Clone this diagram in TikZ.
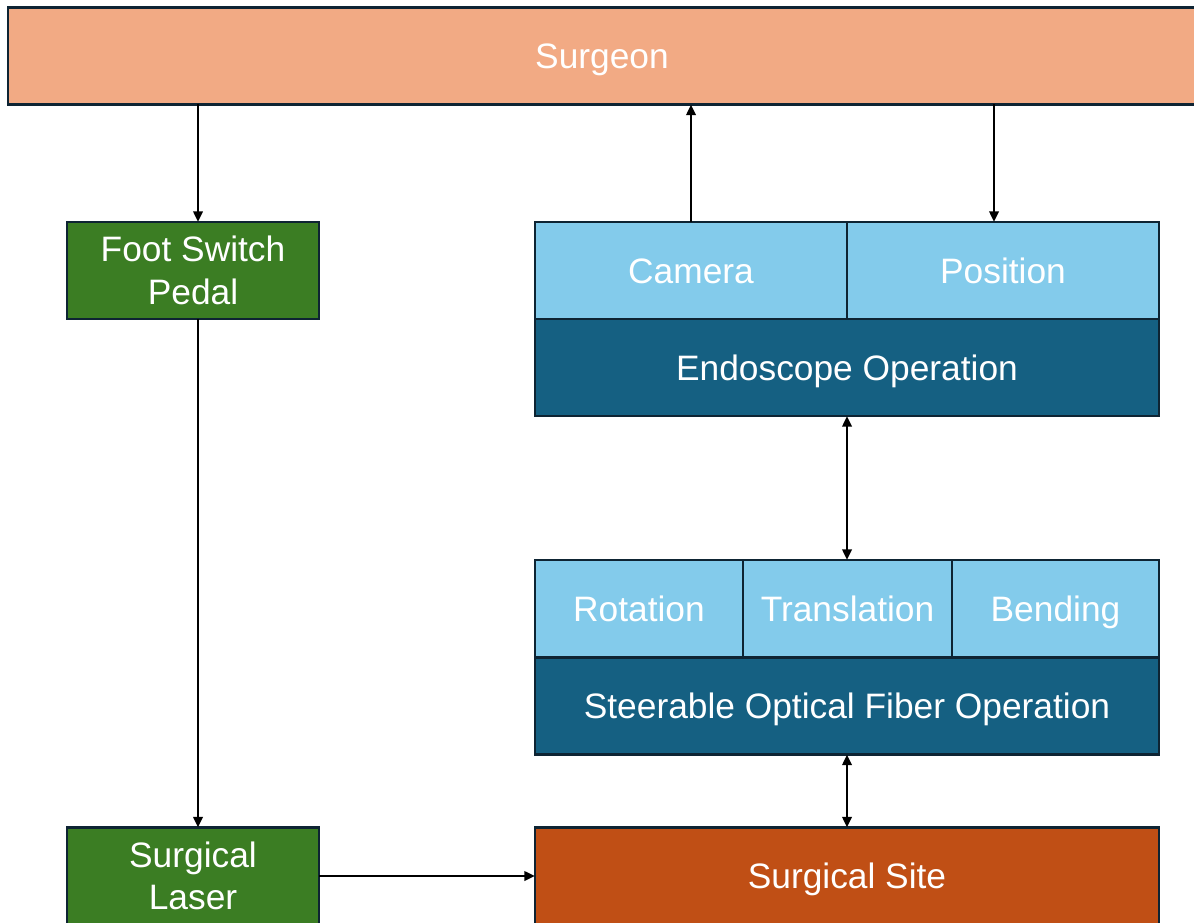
\documentclass[tikz,border=0pt]{standalone}
\usepackage{fontspec}
\setmainfont{Liberation Sans}
\usepackage{xcolor}
\usetikzlibrary{arrows.meta}

\definecolor{surgeonfill}{HTML}{F2AA84}
\definecolor{laserfill}{HTML}{3B7D23}
\definecolor{lightblue}{HTML}{83CBEB}
\definecolor{darkblue}{HTML}{156082}
\definecolor{sitefill}{HTML}{C04F15}
\definecolor{edgeline}{HTML}{0E2433}

\begin{document}
\begin{tikzpicture}[x=0.75pt, y=-0.75pt,
     box/.style={draw=edgeline, line width=2pt, inner sep=0pt, outer sep=0pt,
                 text=white, align=center, font=\fontsize{26.5}{32}\selectfont,
                 minimum height=72.75pt},
     oneline/.style={box, text height=19pt, text depth=0pt},
     greenbox/.style={box, fill=laserfill, minimum width=189pt},
     lightbox/.style={oneline, fill=lightblue},
     darkbox/.style={oneline, fill=darkblue, minimum width=468pt},
     arr/.style={line width=1.9pt, -{Triangle[length=8pt,width=7pt]}},
     biarr/.style={line width=1.9pt, {Triangle[length=8pt,width=7pt]}-{Triangle[length=8pt,width=7pt]}}]
     \useasboundingbox (0,0) rectangle (1194,923);
     \clip (0,0) rectangle (1194,923);
    %top
    \node[oneline, fill=surgeonfill, minimum width=891pt] (surgeon) at (602,56) {Surgeon};
    %left column
    \node[greenbox] (pedal) at (193,270.5) {Foot Switch\\Pedal};
    \node[greenbox] (laser) at (193,876) {Surgical\\Laser};
    %endoscope
    \node[lightbox, minimum width=234pt] (camera) at (691,270.5) {Camera};
    \node[lightbox, minimum width=234pt] (position) at (1003,270.5) {Position};
    \node[darkbox] (endo) at (847,367.5) {Endoscope Operation};
    %fiber
    \node[lightbox, minimum width=156pt] (rotation) at (639,608.5) {Rotation};
    \node[lightbox, minimum width=156.75pt] (translation) at (847.5,608.5) {Translation};
    \node[lightbox, minimum width=155.25pt] (bending) at (1055.5,608.5) {Bending};
    \node[darkbox] (fiber) at (847,706) {Steerable Optical Fiber Operation};
    %site
    \node[oneline, fill=sitefill, minimum width=468pt] (site) at (847,876) {Surgical Site};
    %arrows
    \draw[arr] ([xshift=3.75pt]surgeon.south -| pedal.north) -- ([xshift=3.75pt]pedal.north);
    \draw[arr] ([xshift=3.75pt]pedal.south) -- ([xshift=3.75pt]laser.north);
    \draw[arr] (camera.north) -- (camera.north |- surgeon.south);
    \draw[arr] ([xshift=-6.75pt]position.north |- surgeon.south) -- ([xshift=-6.75pt]position.north);
    \draw[biarr] (endo.south) -- (endo.south |- translation.north);
    \draw[biarr] (fiber.south) -- (site.north);
    \draw[arr] (laser.east) -- (site.west);
\end{tikzpicture}
\end{document}
